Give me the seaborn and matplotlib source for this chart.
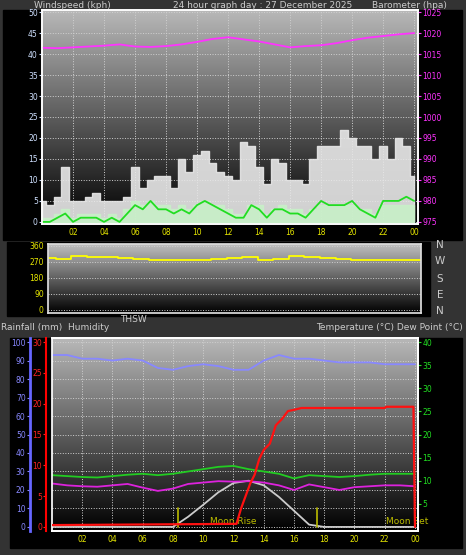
import numpy as np
import pandas as pd
import matplotlib
matplotlib.use("Agg")
import matplotlib.pyplot as plt
from matplotlib.patches import Rectangle
import seaborn as sns

# ── data ────────────────────────────────────────────────────
half_hours = [h / 2 for h in range(49)]
gust = [5, 4, 6, 13, 5, 5, 6, 7, 5, 5, 5, 6, 13, 8, 10, 11, 11, 8, 15, 12, 16, 17, 14, 12, 11,
        10, 19, 18, 13, 9, 15, 14, 10, 10, 9, 15, 18, 18, 18, 22, 20, 18, 18, 15, 18, 15, 20, 18, 11]
avg_wind = [0, 0, 1, 2, 0, 1, 1, 1, 0, 1, 0, 2, 4, 3, 5, 3, 3, 2, 3, 2, 4, 5, 4, 3, 2,
            1, 1, 4, 3, 1, 3, 3, 2, 2, 1, 3, 5, 4, 4, 4, 5, 3, 2, 1, 5, 5, 5, 6, 5]
light_wind = [1, 1, 2, 3, 1, 2, 2, 2, 1, 2, 1, 3, 5, 4, 5, 4, 4, 3, 4, 3, 4, 5, 4, 4, 3,
              2, 2, 4, 4, 2, 3, 4, 3, 3, 2, 3, 4, 4, 4, 4, 4, 3, 3, 2, 4, 4, 4, 4, 4]

hours = list(range(25))
barometer = [1016.5, 1016.4, 1016.6, 1016.8, 1017.0, 1017.3, 1016.8, 1016.7, 1016.9, 1017.3, 1017.9, 1018.6,
             1019.0, 1018.5, 1018.0, 1017.3, 1016.6, 1016.9, 1017.1, 1017.6, 1018.3, 1018.9, 1019.3, 1019.7, 1020.0]
wind_dir = [295, 285, 305, 300, 300, 295, 285, 282, 282, 282, 282, 285, 290, 300, 280, 285, 305, 300, 290, 285,
            283, 282, 282, 282, 282]
humidity = [93, 93, 91, 91, 90, 91, 90, 86, 85, 87, 88, 87, 85, 85, 90, 93, 91, 91, 90, 89, 89, 89, 88, 88, 88]
temperature = [11.2, 11.0, 10.8, 10.7, 11.0, 11.3, 11.5, 11.2, 11.5, 12.0, 12.5, 13.0, 13.2, 12.5, 12.0, 11.5,
               10.5, 11.2, 11.0, 10.8, 11.0, 11.3, 11.5, 11.5, 11.5]
dew_point = [9.4, 9.0, 8.8, 8.7, 9.0, 9.3, 8.5, 7.8, 8.3, 9.3, 9.6, 9.9, 9.8, 9.9, 9.6, 9.0, 8.0, 9.2, 8.6, 8.0,
             8.6, 8.8, 9.0, 9.0, 8.8]
thsw = [0, 0, 0, 0, 0, 0, 0, 0, 0, 2.2, 4.8, 7.5, 9.5, 10, 9, 6.5, 3.5, 0.5, 0, 0, 0, 0, 0, 0, 0]
rain_time = [0, 12.2, 12.5, 12.8, 13.1, 13.4, 13.7, 14.0, 14.4, 14.8, 15.2, 15.6, 16.0, 16.5, 22.0, 22.1, 23.9, 24.0]
rain = [0.3, 0.5, 3.0, 5.0, 7.0, 8.5, 11.0, 12.5, 13.5, 16.5, 17.5, 18.8, 19.0, 19.3, 19.3, 19.5, 19.5, 0.0]
moon_events = [8.3, 17.5]

W, H = 466, 555
BG = "#333333"


def pos(x0, y0, x1, y1):
    return [x0 / W, 1 - y1 / H, (x1 - x0) / W, (y1 - y0) / H]


def gradient(ax, top, bottom):
    g = np.linspace(0, 1, 256).reshape(-1, 1)
    cm = matplotlib.colors.LinearSegmentedColormap.from_list("g", [top, bottom])
    ax.imshow(g, aspect="auto", cmap=cm, extent=[0, 1, 0, 1], transform=ax.transAxes, zorder=0)


sns.set_theme(style="dark")
plt.rcParams["font.family"] = ["DejaVu Sans"]
fig = plt.figure(figsize=(W / 100, H / 100), dpi=100, facecolor=BG)

for r in [(3, 10, 462, 240), (7, 242, 430, 316), (10, 338, 462, 548)]:
    fig.patches.append(Rectangle((r[0] / W, 1 - r[3] / H), (r[2] - r[0]) / W, (r[3] - r[1]) / H,
                                 transform=fig.transFigure, color="black", zorder=-1))

tick_kw = dict(labelsize=5.5, length=2, width=0.8, pad=1)

# ── top panel: wind + barometer ─────────────────────────────
ax1 = fig.add_axes(pos(42, 10, 418, 224))
gradient(ax1, "#b8b8b8", "#000000")
wind = pd.DataFrame({"t": half_hours, "gust": gust, "avg": avg_wind, "light": light_wind})
ax1.fill_between(wind["t"], wind["gust"], step="mid", color="#e8e8e8", alpha=0.9, zorder=2)
ax1.fill_between(wind["t"], wind["light"], step="mid", color="#c8f0c8", alpha=0.9, zorder=3)
sns.lineplot(data=wind, x="t", y="avg", ax=ax1, color="#22dd22", lw=1.3, zorder=4)
ax1.set_xlim(0, 24.25)
ax1.set_ylim(-0.5, 50.5)
ax1.set_yticks(range(0, 51, 5))
ax1.set_xticks(range(2, 25, 2))
ax1.set_xticklabels([f"{h % 24:02d}" for h in range(2, 25, 2)])
ax1.tick_params(axis="y", colors="#cfe0ff", **tick_kw)
ax1.tick_params(axis="x", colors="#e6e600", **tick_kw)
ax1.grid(True, color="#d0d0d0", ls=":", lw=0.7)
for s in ax1.spines.values():
    s.set_color("#dddddd")
ax1b = ax1.twinx()
sns.lineplot(x=hours, y=barometer, ax=ax1b, color="#ff33ff", lw=1.3)
ax1b.set_ylim(974.5, 1025.5)
ax1b.set_yticks(range(975, 1026, 5))
ax1b.tick_params(axis="y", colors="#ff33ff", **tick_kw)
ax1b.grid(False)
fig.text(34 / W, 1 - 5 / H, "Windspeed (kph)", color="#cccccc", fontsize=6.5, va="center")
fig.text(173 / W, 1 - 5 / H, "24 hour graph day : 27 December 2025", color="#cccccc", fontsize=6.5, va="center")
fig.text(372 / W, 1 - 5 / H, "Barometer (hpa)", color="#cccccc", fontsize=6.5, va="center")

# ── middle panel: wind direction ────────────────────────────
ax2 = fig.add_axes(pos(48, 244, 421, 313))
gradient(ax2, "#c0c0c0", "#000000")
sns.lineplot(x=hours, y=wind_dir, ax=ax2, color="#ffff00", lw=1.3, drawstyle="steps-mid")
ax2.set_xlim(0, 24)
ax2.set_ylim(-17, 371)
ax2.set_yticks([0, 90, 180, 270, 360])
ax2.set_xticks([])
ax2.tick_params(axis="y", colors="#e6e600", **tick_kw)
ax2.grid(True, axis="y", color="#d0d0d0", ls=":", lw=0.7)
for s in ax2.spines.values():
    s.set_color("#dddddd")
for lbl, y in zip("NWSEN", [245, 261, 279, 295, 311]):
    fig.text(440 / W, 1 - y / H, lbl, color="#cccccc", fontsize=7.5, ha="center", va="center")
fig.text(1 / W, 1 - 327 / H, "Rainfall (mm)  Humidity", color="#cccccc", fontsize=6.5, va="center")
fig.text(120 / W, 1 - 320 / H, "THSW", color="#cccccc", fontsize=6.5, va="center")
fig.text(463 / W, 1 - 327 / H, "Temperature (°C) Dew Point (°C)", color="#cccccc", fontsize=6.5,
         va="center", ha="right")

# ── bottom panel: humidity, rain, temperature ───────────────
ax3 = fig.add_axes(pos(52, 338, 418, 531))
gradient(ax3, "#b8b8b8", "#000000")
sns.lineplot(x=hours, y=humidity, ax=ax3, color="#8888ff", lw=1.3)
ax3.set_xlim(0, 24.2)
ax3.set_ylim(-2.2, 102.2)
ax3.set_yticks(range(0, 101, 10))
ax3.set_xticks(range(2, 25, 2))
ax3.set_xticklabels([f"{h % 24:02d}" for h in range(2, 25, 2)])
ax3.tick_params(axis="y", colors="#8888ff", **tick_kw)
ax3.tick_params(axis="x", colors="#e6e600", **tick_kw)
ax3.spines["left"].set_position(("outward", 16))
ax3.spines["left"].set_color("#6666ff")
ax3.spines["left"].set_linewidth(2)
ax3.grid(True, color="#d0d0d0", ls=":", lw=0.7)
for k in ["top", "right", "bottom"]:
    ax3.spines[k].set_color("#dddddd")

ax3t = ax3.twinx()
temps = pd.DataFrame({"h": hours, "temp": temperature, "dew": dew_point, "thsw": thsw})
sns.lineplot(data=temps, x="h", y="thsw", ax=ax3t, color="#cccccc", lw=1.3)
sns.lineplot(data=temps, x="h", y="temp", ax=ax3t, color="#22cc22", lw=1.3)
sns.lineplot(data=temps, x="h", y="dew", ax=ax3t, color="#dd22dd", lw=1.3)
ax3t.set_ylim(-0.88, 40.88)
ax3t.set_yticks(range(5, 41, 5))
ax3t.tick_params(axis="y", colors="#22dd22", **tick_kw)
ax3t.grid(False)
for t in moon_events:
    ax3t.plot([t, t], [0, 4], color="#bbbb00", lw=1.2)
ax3t.text(12.0, 0.1, "Moon Rise", color="#bbbb00", fontsize=6.5, ha="center", va="bottom")
ax3t.text(23.5, 0.1, "Moon Set", color="#bbbb00", fontsize=6.5, ha="center", va="bottom")

ax3r = ax3.twinx()
ax3r.yaxis.set_ticks_position("left")
ax3r.spines["left"].set_position(("outward", 4))
ax3r.spines["left"].set_visible(True)
ax3r.spines["left"].set_color("#ff0000")
ax3r.spines["left"].set_linewidth(1.5)
sns.lineplot(x=rain_time, y=rain, ax=ax3r, color="#ff1111", lw=1.6)
ax3r.set_ylim(-0.66, 30.66)
ax3r.set_yticks(range(0, 31, 5))
ax3r.tick_params(axis="y", colors="#ff2222", **tick_kw)
ax3r.grid(False)

for a in [ax1, ax1b, ax2, ax3, ax3t, ax3r]:
    a.set_facecolor("none")
    a.set_xlabel("")
    a.set_ylabel("")

fig.savefig("out.png", dpi=100, facecolor=BG)
